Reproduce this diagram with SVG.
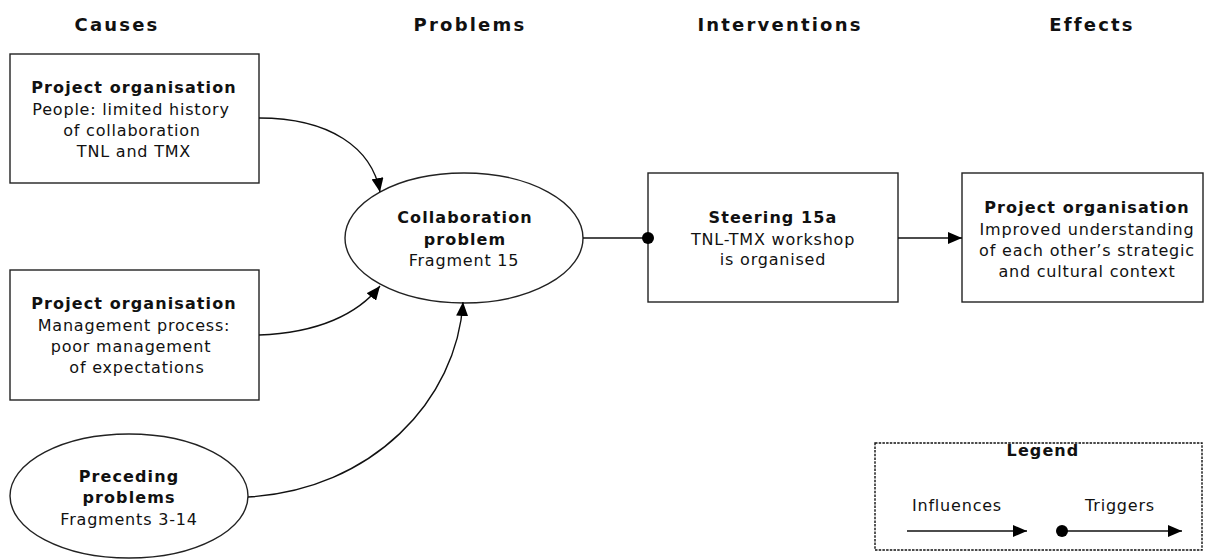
<svg xmlns="http://www.w3.org/2000/svg" width="1206" height="559" viewBox="0 0 1206 559">
  <style>
    text { font-family: "DejaVu Sans", Verdana, sans-serif; fill: #111; text-anchor: middle; }
    .head { font-size: 18px; font-weight: bold; letter-spacing: 2.2px; }
    .b { font-size: 16px; font-weight: bold; letter-spacing: 1.1px; }
    .t { font-size: 16px; letter-spacing: 0.8px; }
    .shape { fill: #fff; stroke: #222; stroke-width: 1.4; }
    .link { fill: none; stroke: #111; stroke-width: 1.4; }
    .legend { fill: none; stroke: #111; stroke-width: 1.4; stroke-dasharray: 2.5 1.2; }
  </style>
  <defs>
    <marker id="arrow" markerUnits="userSpaceOnUse" markerWidth="15" markerHeight="12" refX="14" refY="6" orient="auto">
      <path d="M0,0 L14,6 L0,12 Z" fill="#000"/>
    </marker>
    <marker id="dot" markerUnits="userSpaceOnUse" markerWidth="13" markerHeight="13" refX="6.5" refY="6.5" orient="auto">
      <circle cx="6.5" cy="6.5" r="6" fill="#000"/>
    </marker>
  </defs>

  <!-- column headings -->
  <g id="headings">
    <text class="head" x="117" y="31">Causes</text>
    <text class="head" x="470" y="31">Problems</text>
    <text class="head" x="780" y="31">Interventions</text>
    <text class="head" x="1092" y="31">Effects</text>
  </g>

  <g id="cause-people">
    <rect class="shape" x="10" y="54" width="249" height="129"/>
    <text class="b" x="134" y="93">Project organisation</text>
    <text class="t" x="131" y="115">People:  limited history</text>
    <text class="t" x="132" y="136">of collaboration</text>
    <text class="t" x="134" y="157">TNL and TMX</text>
  </g>

  <g id="cause-management">
    <rect class="shape" x="10" y="270" width="249" height="130"/>
    <text class="b" x="134" y="309">Project organisation</text>
    <text class="t" x="134" y="331">Management process:</text>
    <text class="t" x="131" y="352">poor management</text>
    <text class="t" x="137" y="373">of expectations</text>
  </g>

  <g id="cause-preceding">
    <ellipse class="shape" cx="129" cy="496" rx="119" ry="62"/>
    <text class="b" x="129" y="482">Preceding</text>
    <text class="b" x="129" y="503">problems</text>
    <text class="t" x="129" y="525">Fragments 3-14</text>
  </g>

  <g id="problem-collaboration">
    <ellipse class="shape" cx="464" cy="238" rx="119" ry="65"/>
    <text class="b" x="465" y="223">Collaboration</text>
    <text class="b" x="465" y="245">problem</text>
    <text class="t" x="464" y="266">Fragment 15</text>
  </g>

  <g id="intervention-steering">
    <rect class="shape" x="648" y="173" width="250" height="129"/>
    <text class="b" x="773" y="223">Steering 15a</text>
    <text class="t" x="773" y="245">TNL-TMX workshop</text>
    <text class="t" x="773" y="265">is organised</text>
  </g>

  <g id="effect-understanding">
    <rect class="shape" x="962" y="173" width="241" height="129"/>
    <text class="b" x="1087" y="213">Project organisation</text>
    <text class="t" x="1087" y="235">Improved understanding</text>
    <text class="t" x="1087" y="256">of each other’s strategic</text>
    <text class="t" x="1087" y="277">and cultural context</text>
  </g>

  <!-- connectors, drawn over the node outlines -->
  <g id="connectors">
    <path class="link" d="M259,118 C330,118 372,148 380,192" marker-end="url(#arrow)"/>
    <path class="link" d="M259,335 C318,333 358,314 380,286" marker-end="url(#arrow)"/>
    <path class="link" d="M248,497 C372,490 457,400 463,302" marker-end="url(#arrow)"/>
    <path class="link" d="M583,238 L648,238" marker-end="url(#dot)"/>
    <path class="link" d="M898,238 L962,238" marker-end="url(#arrow)"/>
  </g>

  <g id="legend">
    <rect class="legend" x="875" y="443" width="327" height="107"/>
    <text class="b" x="1043" y="456">Legend</text>
    <text class="t" x="957" y="511">Influences</text>
    <text class="t" x="1120" y="511">Triggers</text>
    <path class="link" d="M907,531 L1027,531" marker-end="url(#arrow)"/>
    <path class="link" d="M1062,531 L1182,531" marker-start="url(#dot)" marker-end="url(#arrow)"/>
  </g>
</svg>
